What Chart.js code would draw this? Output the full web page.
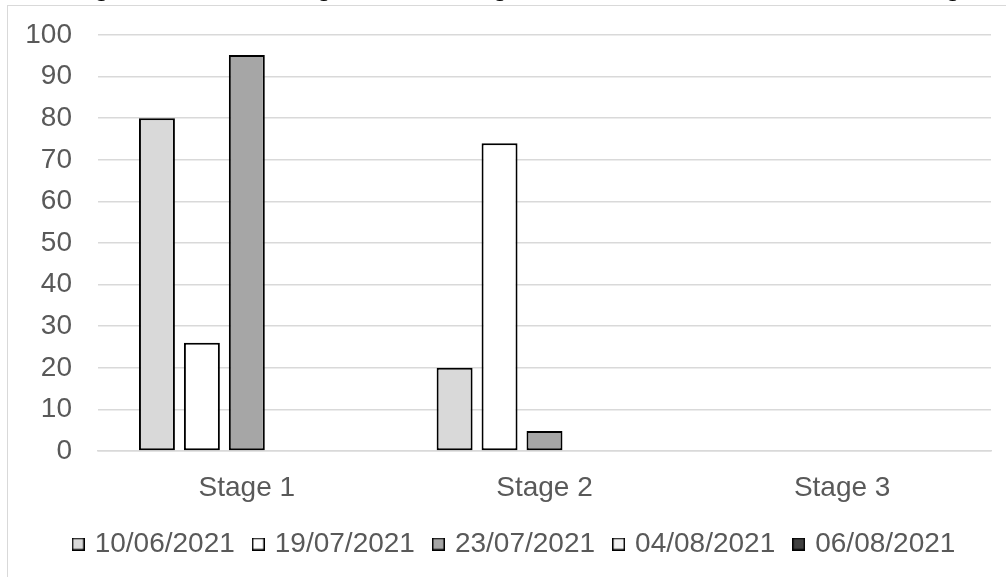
<!DOCTYPE html>
<html>
<head>
<meta charset="utf-8">
<script src="https://cdn.jsdelivr.net/npm/chart.js@4.4.1/dist/chart.umd.min.js"></script>
<style>
  html, body { margin: 0; padding: 0; background: #fff; overflow: hidden; width: 1006px; height: 577px; }
  #frame { position: absolute; left: 7px; top: 5px; width: 1040px; height: 620px; border: 1.5px solid #D9D9D9; box-sizing: border-box; pointer-events: none; }
  #wrap { position: absolute; left: 8px; top: -30px; width: 1015px; height: 640px; }
</style>
</head>
<body>
<div id="frame"></div>
<div id="wrap"><canvas id="c"></canvas></div>
<script>
// Stages on the category axis
const stages = ['Stage 1', 'Stage 2', 'Stage 3'];
// Sampling dates (one series each)
const dates = ['10/06/2021', '19/07/2021', '23/07/2021', '04/08/2021', '06/08/2021'];
// Percentage of samples in each stage, per sampling date
const values0610 = [80, 20, 0];
const values1907 = [26, 74, 0];
const values2307 = [95.2, 4.8, 0];
const values0408 = [0, 0, 0];
const values0608 = [0, 0, 0];
// Y axis range
const yMin = 0, yMax = 100, yStep = 10;

const fills = ['#D9D9D9', '#FFFFFF', '#A6A6A6', '#F2F2F2', '#404040'];
const series = [values0610, values1907, values2307, values0408, values0608];

const FONT = "'Liberation Sans', Arial, sans-serif";
const TEXT = '#595959';

// Small outlined square used as the legend marker
function legendSwatch(fill) {
  const c = document.createElement('canvas');
  c.width = 13; c.height = 13;
  const g = c.getContext('2d');
  g.fillStyle = fill;
  g.fillRect(0, 0, 13, 13);
  g.strokeStyle = '#000000';
  g.lineWidth = 1.5;
  g.strokeRect(0.75, 0.75, 11.5, 11.5);
  return c;
}

new Chart(document.getElementById('c'), {
  type: 'bar',
  data: {
    labels: stages,
    datasets: series.map((vals, i) => ({
      label: dates[i],
      data: vals,
      backgroundColor: fills[i],
      borderColor: '#000000',
      borderWidth: 2,
      borderSkipped: false,
      categoryPercentage: 0.755,
      barPercentage: 0.8
    }))
  },
  options: {
    responsive: true,
    maintainAspectRatio: false,
    animation: false,
    layout: { padding: { left: 0, right: 0, top: 0, bottom: 42 } },
    plugins: {
      title: {
        display: true,
        text: 'Figure 3 – Percentage of each stage of disease on infected fruit in Song',
        color: '#000000',
        font: { family: FONT, size: 28, weight: 'normal' },
        padding: { top: 0, bottom: 31.4 }
      },
      legend: {
        position: 'bottom',
        labels: {
          color: TEXT,
          font: { family: FONT, size: 28 },
          usePointStyle: true,
          pointStyleWidth: 5,
          boxHeight: 13,
          padding: 21,
          generateLabels: (chart) => chart.data.datasets.map((ds, i) => ({
            text: ds.label,
            fillStyle: ds.backgroundColor,
            strokeStyle: '#000000',
            lineWidth: 0,
            pointStyle: legendSwatch(ds.backgroundColor),
            fontColor: TEXT,
            datasetIndex: i,
            hidden: false
          }))
        }
      },
      tooltip: { enabled: false }
    },
    scales: {
      x: {
        grid: { display: false, drawTicks: false },
        border: { display: true, color: '#D9D9D9', width: 1.5 },
        ticks: { color: TEXT, font: { family: FONT, size: 28 }, padding: 20.2 },
        afterFit: (s) => { s.height = 58; }
      },
      y: {
        min: yMin,
        max: yMax,
        ticks: { stepSize: yStep, color: TEXT, font: { family: FONT, size: 28 }, padding: 26 },
        grid: { color: '#D9D9D9', lineWidth: 1.5, drawTicks: false },
        border: { display: false },
        afterFit: (s) => { s.width = 90; }
      },
      // empty right-hand margin inside the frame
      yRight: {
        position: 'right',
        min: yMin,
        max: yMax,
        ticks: { display: false },
        grid: { display: false, drawTicks: false },
        border: { display: false },
        afterFit: (s) => { s.width = 32; }
      }
    }
  }
});
</script>
</body>
</html>
